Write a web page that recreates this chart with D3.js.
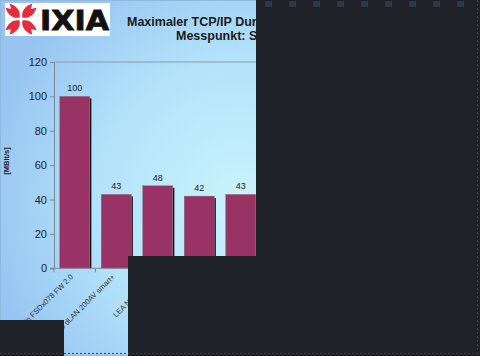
<!DOCTYPE html>
<html><head><meta charset="utf-8">
<script src="https://cdn.jsdelivr.net/npm/d3@7"></script>
<style>html,body{margin:0;padding:0;background:#fff;overflow:hidden}svg{display:block}</style>
</head><body><div id="chart"></div>
<script>
const titleLines = ["Maximaler TCP/IP Durchsatz (Download)", "Messpunkt: Server"];
const categories = ["Plugin FSDx078 FW 2.0", "devolo dLAN 200AV smart+", "LEA NetPlug 200", "Allnet ALL168205", "Netgear XAV101", "devolo dLAN 200AVplus", "Zyxel PLA-400", "Corinex AV200", "Linksys PLK300", "D-Link DHP-300"];
const values = [100, 43, 48, 42, 43, 91, 47, 45, 50, 40];
const yTicks = [0, 20, 40, 60, 80, 100, 120];
const yLabel = "[MBit/s]";

const W = 480, H = 356;
const m = {left: 54, right: 11, top: 62, bottom: 88};
const svg = d3.select("#chart").append("svg").attr("width", W).attr("height", H);
const defs = svg.append("defs");
const rg = defs.append("radialGradient").attr("id", "bg").attr("gradientUnits", "userSpaceOnUse")
  .attr("cx", 240).attr("cy", 200).attr("r", 260);
rg.append("stop").attr("offset", 0).attr("stop-color", "#c9f4fd");
rg.append("stop").attr("offset", 0.55).attr("stop-color", "#b3e2fa");
rg.append("stop").attr("offset", 1).attr("stop-color", "#97c4f1");
svg.append("rect").attr("width", W).attr("height", H).attr("fill", "url(#bg)");
svg.append("rect").attr("x", 0.5).attr("y", 0.5).attr("width", W - 1).attr("height", H - 1)
  .attr("fill", "none").attr("stroke", "#8fb8e0");

// logo
const logo = svg.append("g");
logo.append("rect").attr("x", 5).attr("y", 3).attr("width", 105).attr("height", 33).attr("fill", "#fff");
const ic = logo.append("g").attr("transform", "translate(21,19)");
[45, 135, 225, 315].forEach(a => {
  ic.append("path").attr("transform", `rotate(${a})`)
    .attr("d", "M2,0 C6,-6 13,-6 19,-3 L14,0 L19,3 C13,6 6,6 2,0 Z").attr("fill", "#e82b3d");
});
logo.append("text").attr("x", 40).attr("y", 30).attr("font-family", "DejaVu Sans, Liberation Sans, sans-serif")
  .attr("font-weight", "bold").attr("font-size", 27).attr("textLength", 69).attr("lengthAdjust", "spacingAndGlyphs")
  .attr("fill", "#111").attr("stroke", "#111").attr("stroke-width", 0.8).text("IXIA");

// title
svg.append("text").attr("x", 127).attr("y", 26).attr("font-family", "Liberation Sans, Arial, sans-serif")
  .attr("font-weight", "bold").attr("font-size", 12.5).attr("fill", "#1a1a1a").text(titleLines[0]);
svg.append("text").attr("x", 176).attr("y", 40).attr("font-family", "Liberation Sans, Arial, sans-serif")
  .attr("font-weight", "bold").attr("font-size", 12.5).attr("fill", "#1a1a1a").text(titleLines[1]);

const x = d3.scaleBand().domain(categories).range([m.left, W - m.right]).paddingInner(0.277).paddingOuter(0.1385);
const y = d3.scaleLinear().domain([0, 120]).range([268.3, 62]);

const g = svg.append("g");
g.append("path").attr("d", `M${m.left},${y(120)}H${W - m.right}V${y(0)}`).attr("fill", "none").attr("stroke", "#8c9aa6");

const step = x.step();
g.selectAll(".sh").data(values).join("rect")
  .attr("x", (d, i) => x(categories[i]) + x.bandwidth())
  .attr("y", d => y(d) + 2).attr("width", 1.6).attr("height", d => y(0) - y(d) - 2).attr("fill", "#111");
g.selectAll(".bar").data(values).join("rect")
  .attr("x", (d, i) => x(categories[i])).attr("y", d => y(d))
  .attr("width", x.bandwidth()).attr("height", d => y(0) - y(d))
  .attr("fill", "#993366").attr("stroke", "#8a6a7a").attr("stroke-width", 0.4);
g.selectAll(".val").data(values).join("text")
  .attr("x", (d, i) => x(categories[i]) + x.bandwidth() / 2).attr("y", d => y(d) - 5)
  .attr("text-anchor", "middle").attr("font-family", "Liberation Sans, Arial, sans-serif")
  .attr("font-size", 9).attr("fill", "#222").text(d => d);

const ya = d3.axisLeft(y).tickValues(yTicks).tickSize(4).tickPadding(3);
const yg = svg.append("g").attr("transform", `translate(${m.left},0)`).call(ya);
yg.select(".domain").attr("stroke", "#7d8a96");
yg.selectAll(".tick line").attr("stroke", "#7d8a96");
yg.selectAll("text").attr("font-family", "Liberation Sans, Arial, sans-serif").attr("font-size", 11).attr("fill", "#222");

svg.append("line").attr("x1", m.left - 4).attr("x2", W - m.right).attr("y1", y(0)).attr("y2", y(0)).attr("stroke", "#7d8a96");
svg.selectAll(".xt").data(d3.range(categories.length + 1)).join("line")
  .attr("x1", i => m.left + i * step).attr("x2", i => m.left + i * step)
  .attr("y1", y(0)).attr("y2", y(0) + 4).attr("stroke", "#7d8a96");
svg.selectAll(".xl").data(categories).join("text")
  .attr("transform", d => `translate(${x(d) + x.bandwidth() / 2 - 1},${y(0) + 9}) rotate(-45)`)
  .attr("text-anchor", "end").attr("font-family", "Liberation Sans, Arial, sans-serif")
  .attr("font-size", 7.5).attr("fill", "#333").text(d => d);

svg.append("text").attr("transform", "translate(9,161) rotate(-90)").attr("text-anchor", "middle")
  .attr("font-family", "Liberation Sans, Arial, sans-serif").attr("font-weight", "bold")
  .attr("font-size", 7.5).attr("fill", "#222").text(yLabel);

// dark overlays present in the reference
const dark = "#1e2228";
svg.append("rect").attr("x", 256).attr("y", 0).attr("width", 224).attr("height", 356).attr("fill", dark);
svg.append("rect").attr("x", 128).attr("y", 256).attr("width", 128).attr("height", 100).attr("fill", dark);
svg.append("rect").attr("x", 0).attr("y", 320).attr("width", 64).attr("height", 36).attr("fill", dark);
svg.selectAll(".sq").data(d3.range(9)).join("rect")
  .attr("x", i => 265 + i * 24).attr("y", 1).attr("width", 7).attr("height", 6).attr("fill", "#2b3a48");
svg.append("line").attr("x1", 477.5).attr("x2", 477.5).attr("y1", 0).attr("y2", 356)
  .attr("stroke", "#3a3f46").attr("stroke-dasharray", "2,2");
svg.append("line").attr("x1", 0).attr("x2", 480).attr("y1", 353.5).attr("y2", 353.5)
  .attr("stroke", "#3a3f46").attr("stroke-dasharray", "2,2");
</script></body></html>
